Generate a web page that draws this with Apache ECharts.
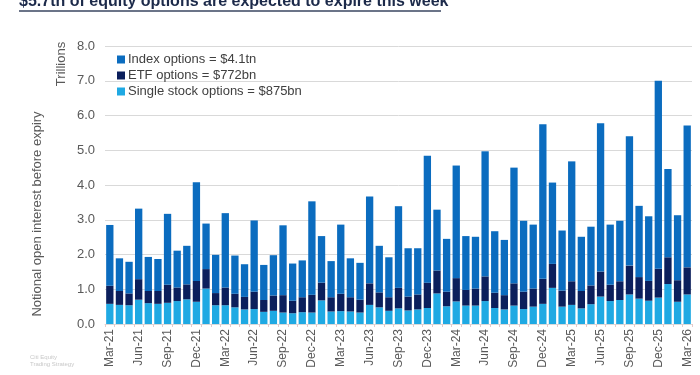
<!DOCTYPE html>
<html>
<head>
<meta charset="utf-8">
<script src="https://cdn.jsdelivr.net/npm/echarts@6/dist/echarts.min.js"></script>
<style>
  html, body { margin: 0; padding: 0; background: #fff; }
  #chart { width: 700px; height: 375px; }
</style>
</head>
<body>
<div id="chart"></div>
<script>
const months = [
  'Mar-21','Apr-21','May-21','Jun-21','Jul-21','Aug-21','Sep-21','Oct-21','Nov-21','Dec-21',
  'Jan-22','Feb-22','Mar-22','Apr-22','May-22','Jun-22','Jul-22','Aug-22','Sep-22','Oct-22','Nov-22','Dec-22',
  'Jan-23','Feb-23','Mar-23','Apr-23','May-23','Jun-23','Jul-23','Aug-23','Sep-23','Oct-23','Nov-23','Dec-23',
  'Jan-24','Feb-24','Mar-24','Apr-24','May-24','Jun-24','Jul-24','Aug-24','Sep-24','Oct-24','Nov-24','Dec-24',
  'Jan-25','Feb-25','Mar-25','Apr-25','May-25','Jun-25','Jul-25','Aug-25','Sep-25','Oct-25','Nov-25','Dec-25',
  'Jan-26','Feb-26','Mar-26'
]

// stacked tops (trillions)
const totalTop = [
  2.85,1.89,1.79,3.32,1.93,1.87,3.17,2.11,2.25,4.08,
  2.89,1.99,3.19,1.97,1.72,2.98,1.70,1.98,2.84,1.74,1.83,3.53,
  2.53,1.81,2.86,1.89,1.76,3.67,2.25,1.92,3.39,2.18,2.18,4.84,
  3.29,2.45,4.56,2.53,2.51,4.97,2.67,2.42,4.50,2.97,2.86,5.75,
  4.07,2.69,4.68,2.51,2.80,5.78,2.86,2.97,5.40,3.40,3.10,7.00,
  4.46,3.13,5.71
]
const etfTop = [
  1.10,0.95,0.88,1.29,0.95,0.95,1.13,1.05,1.14,1.24,
  1.58,0.89,1.05,0.87,0.78,0.93,0.69,0.82,0.83,0.67,0.77,0.84,
  1.19,0.77,0.87,0.77,0.70,1.17,0.91,0.77,1.04,0.79,0.85,1.19,
  1.54,0.93,1.32,0.98,1.02,1.37,0.90,0.83,1.17,0.93,1.02,1.30,
  1.73,0.96,1.23,0.95,1.11,1.51,1.13,1.23,1.68,1.35,1.24,1.59,
  1.92,1.26,1.63
]
const singleStock = [
  0.58,0.55,0.54,0.70,0.60,0.58,0.61,0.66,0.71,0.64,
  1.02,0.54,0.54,0.48,0.42,0.43,0.35,0.38,0.33,0.31,0.34,0.33,
  0.68,0.36,0.37,0.36,0.33,0.55,0.48,0.38,0.45,0.39,0.42,0.46,
  0.88,0.51,0.65,0.53,0.53,0.66,0.46,0.42,0.53,0.43,0.50,0.58,
  1.04,0.50,0.55,0.45,0.57,0.79,0.66,0.69,0.85,0.73,0.67,0.76,
  1.15,0.64,0.85
]
const etfOptions = etfTop.map((v, i) => +(v - singleStock[i]).toFixed(2))
const indexOptions = totalTop.map((v, i) => +(v - etfTop[i]).toFixed(2))

const legendNames = ['Index options = $4.1tn', 'ETF options = $772bn', 'Single stock options = $875bn']
const colors = { index: '#0b6cbf', etf: '#0b1f5c', single: '#1fa9e3' }

const font = 'Liberation Sans, Arial, sans-serif'
const chart = echarts.init(document.getElementById('chart'))

chart.setOption({
  animation: false,
  backgroundColor: '#fff',
  textStyle: { fontFamily: font },
  grid: { left: 105, right: 8, top: 46, bottom: 51 },
  legend: {
    orient: 'vertical',
    left: 112,
    top: 48,
    itemWidth: 8,
    itemHeight: 8,
    itemGap: 3,
    icon: 'rect',
    data: legendNames,
    textStyle: { color: '#404040', fontSize: 13, fontFamily: font, padding: [0, 0, 0, -2] }
  },
  xAxis: {
    type: 'category',
    data: months,
    axisLine: { lineStyle: { color: '#d9d9d9' } },
    axisTick: { show: true, interval: 0, length: 3, lineStyle: { color: '#e6c9c9' } },
    axisLabel: { interval: 2, rotate: 90, color: '#595959', fontSize: 12, margin: 5 }
  },
  yAxis: {
    type: 'value',
    min: 0,
    max: 8,
    interval: 1,
    axisLine: { show: false },
    axisTick: { show: false },
    splitLine: { lineStyle: { color: '#d9d9d9' } },
    axisLabel: { color: '#595959', fontSize: 13, margin: 10, formatter: v => v.toFixed(1) }
  },
  series: [
    { name: legendNames[2], type: 'bar', stack: 'oi', data: singleStock, itemStyle: { color: colors.single }, barCategoryGap: '24%' },
    { name: legendNames[1], type: 'bar', stack: 'oi', data: etfOptions, itemStyle: { color: colors.etf } },
    { name: legendNames[0], type: 'bar', stack: 'oi', data: indexOptions, itemStyle: { color: colors.index } }
  ],
  graphic: [
    {
      type: 'text', left: 19, top: -6,
      style: { text: '$5.7tn of equity options are expected to expire this week', fill: '#1c2a4a', font: 'bold 16px ' + font }
    },
    { type: 'line', shape: { x1: 19, y1: 11, x2: 441, y2: 11 }, style: { stroke: '#3a4660', lineWidth: 1.5 } },
    {
      type: 'text', x: 61, y: 64, rotation: Math.PI / 2,
      style: { text: 'Trillions', fill: '#595959', font: '13px ' + font, align: 'center', verticalAlign: 'middle' }
    },
    {
      type: 'text', x: 37, y: 214, rotation: Math.PI / 2,
      style: { text: 'Notional open interest before expiry', fill: '#595959', font: '13px ' + font, align: 'center', verticalAlign: 'middle' }
    },
    {
      type: 'text', left: 30, top: 354,
      style: { text: 'Citi Equity\nTrading Strategy', fill: '#c8c8c8', font: '6px ' + font, lineHeight: 7 }
    }
  ]
})
</script>
</body>
</html>
